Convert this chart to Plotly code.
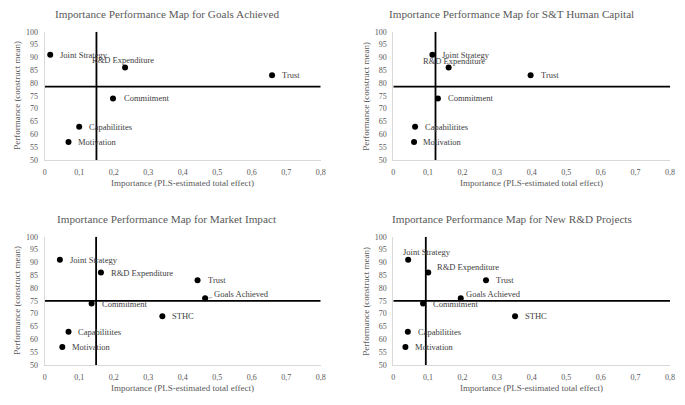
import plotly.graph_objects as go

# ---------------- data ----------------
titles = [
    "Importance Performance Map for Goals Achieved",
    "Importance Performance Map for S&T Human Capital",
    "Importance Performance Map for Market Impact",
    "Importance Performance Map for New R&D Projects",
]

labels_top = ["Joint Strategy", "R&D Expenditure", "Trust", "Commitment", "Capabilitites", "Motivation"]
labels_bottom = ["Joint Strategy", "R&D Expenditure", "Trust", "Goals Achieved", "Commitment", "STHC",
                 "Capabilitites", "Motivation"]

goals_importance = [0.016, 0.233, 0.659, 0.198, 0.100, 0.069]
goals_performance = [91, 86, 83, 74, 63, 57]

sthc_importance = [0.113, 0.160, 0.397, 0.129, 0.063, 0.060]
sthc_performance = [91, 86, 83, 74, 63, 57]

market_importance = [0.044, 0.163, 0.443, 0.465, 0.136, 0.341, 0.069, 0.051]
market_performance = [91, 86, 83, 76, 74, 69, 63, 57]

newrd_importance = [0.043, 0.101, 0.268, 0.195, 0.086, 0.352, 0.042, 0.035]
newrd_performance = [91, 86, 83, 76, 74, 69, 63, 57]

mean_importance = [0.150, 0.122, 0.149, 0.094]
mean_performance = [78.6, 78.6, 75.0, 75.0]

x_ticks = [0, 0.1, 0.2, 0.3, 0.4, 0.5, 0.6, 0.7, 0.8]
x_ticktext = ["0", "0,1", "0,2", "0,3", "0,4", "0,5", "0,6", "0,7", "0,8"]
y_ticks = [50, 55, 60, 65, 70, 75, 80, 85, 90, 95, 100]

x_title = "Importance (PLS-estimated total effect)"
y_title = "Performance (construct mean)"

panels = [
    (labels_top, goals_importance, goals_performance),
    (labels_top, sthc_importance, sthc_performance),
    (labels_bottom, market_importance, market_performance),
    (labels_bottom, newrd_importance, newrd_performance),
]

# ---------------- styling / layout ----------------
W, H = 685, 405
# plot area pixel boxes: (left, right, top, bottom)
boxes = [
    (44.7, 320.7, 31.7, 160.0),
    (393.3, 670.0, 31.7, 160.0),
    (44.7, 320.7, 236.7, 365.0),
    (393.3, 670.0, 236.7, 365.0),
]
title_pos = [(167, 14), (512, 14), (167, 218.5), (512, 218.5)]
ytitle_x = [17, 366]

# label offsets (dx, dy in px; dy positive = down), per panel per label
offsets = [
    {"Joint Strategy": (8, 0), "R&D Expenditure": (-35, -8), "Trust": (8, 0),
     "Commitment": (8.5, 0), "Capabilitites": (8, 0), "Motivation": (7.5, 0)},
    {"Joint Strategy": (8, 0), "R&D Expenditure": (-28, -7), "Trust": (8.5, 0),
     "Commitment": (8.5, 0), "Capabilitites": (7.5, 0), "Motivation": (7, 0)},
    {"Joint Strategy": (8, 0), "R&D Expenditure": (8, 0), "Trust": (8, 0),
     "Goals Achieved": (9, -3), "Commitment": (8, 1), "STHC": (8, 0),
     "Capabilitites": (7.5, 0), "Motivation": (7.5, 0)},
    {"Joint Strategy": (-7, -8), "R&D Expenditure": (6.5, -6), "Trust": (8, 0),
     "Goals Achieved": (3.5, -4), "Commitment": (7.5, 1), "STHC": (8, 0),
     "Capabilitites": (8, 0), "Motivation": (8, 0)},
]

FONT = "Liberation Serif, Times New Roman, serif"
GRAY = "#595959"
LBL = "#404040"

fig = go.Figure()
annotations = []

for i, (labels, xs, ys) in enumerate(panels):
    n = i + 1
    xa = "x" if n == 1 else f"x{n}"
    ya = "y" if n == 1 else f"y{n}"
    l, r, t, b = boxes[i]
    fig.update_layout(**{
        ("xaxis" if n == 1 else f"xaxis{n}"): dict(
            domain=[l / W, r / W], anchor=ya, range=[0, 0.8],
            tickvals=x_ticks, ticktext=x_ticktext, showgrid=False, zeroline=False,
            showline=True, linecolor="#d9d9d9", linewidth=1, ticks="",
            tickfont=dict(family=FONT, size=8, color=GRAY), ticklabelstandoff=4,
            automargin=False, fixedrange=True),
        ("yaxis" if n == 1 else f"yaxis{n}"): dict(
            domain=[1 - b / H, 1 - t / H], anchor=xa, range=[50, 100],
            tickvals=y_ticks, showgrid=False, zeroline=False,
            showline=True, linecolor="#d9d9d9", linewidth=1, ticks="",
            tickfont=dict(family=FONT, size=8, color=GRAY), ticklabelstandoff=4,
            automargin=False, fixedrange=True),
    })
    # reference lines
    fig.add_trace(go.Scatter(x=[mean_importance[i], mean_importance[i]], y=[50, 100],
                             mode="lines", line=dict(color="black", width=1.8),
                             xaxis=xa, yaxis=ya, showlegend=False, hoverinfo="skip"))
    fig.add_trace(go.Scatter(x=[0, 0.8], y=[mean_performance[i], mean_performance[i]],
                             mode="lines", line=dict(color="black", width=1.8),
                             xaxis=xa, yaxis=ya, showlegend=False, hoverinfo="skip"))
    # points
    fig.add_trace(go.Scatter(x=xs, y=ys, mode="markers", text=labels,
                             marker=dict(color="black", size=6),
                             xaxis=xa, yaxis=ya, showlegend=False))
    for lab, xv, yv in zip(labels, xs, ys):
        dx, dy = offsets[i].get(lab, (8, 0))
        if i == 2 and lab == "Goals Achieved":
            annotations.append(dict(
                x=xv, y=yv, xref=xa, yref=ya, text=lab, showarrow=True,
                arrowhead=0, arrowwidth=0.6, arrowcolor="#7f7f7f",
                ax=dx + 27, ay=dy - 1, standoff=3,
                font=dict(family=FONT, size=8.5, color=LBL)))
        else:
            annotations.append(dict(
                x=xv, y=yv, xref=xa, yref=ya, text=lab, showarrow=False,
                xanchor="left", yanchor="middle", xshift=dx, yshift=-dy,
                font=dict(family=FONT, size=8.5, color=LBL)))
    # titles
    tx, ty = title_pos[i]
    annotations.append(dict(x=tx / W, y=1 - ty / H, xref="paper", yref="paper",
                            text=titles[i], showarrow=False, xanchor="center", yanchor="middle",
                            font=dict(family=FONT, size=11.2, color=GRAY)))
    # axis titles
    annotations.append(dict(x=(l + r) / 2 / W, y=1 - (b + 22.5) / H, xref="paper", yref="paper",
                            text=x_title, showarrow=False, xanchor="center", yanchor="middle",
                            font=dict(family=FONT, size=9, color=GRAY)))
    annotations.append(dict(x=ytitle_x[i % 2] / W, y=1 - (t + b) / 2 / H, xref="paper", yref="paper",
                            text=y_title, showarrow=False, xanchor="center", yanchor="middle",
                            textangle=-90, font=dict(family=FONT, size=9, color=GRAY)))

fig.update_layout(width=W, height=H, margin=dict(l=0, r=0, t=0, b=0),
                  paper_bgcolor="white", plot_bgcolor="white",
                  annotations=annotations, showlegend=False)

fig.write_html("out.html", config={"displayModeBar": False},
               post_script="document.body.style.margin='0';document.body.style.padding='0';")
